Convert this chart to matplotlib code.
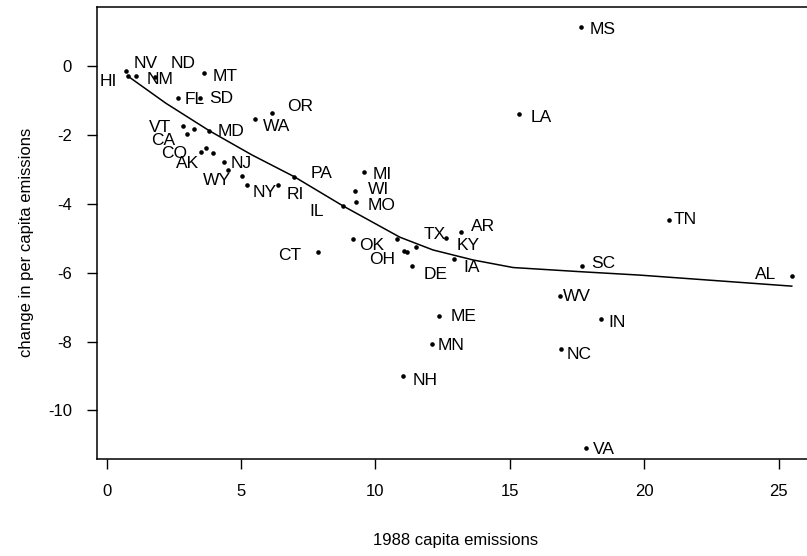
"""Change in per capita emissions vs 1988 level, by state."""

import matplotlib
matplotlib.use("Agg")
import matplotlib.pyplot as plt

# state codes ("" = dot with no visible label)
states = ["HI", "NV", "ND", "NM", "MT", "FL", "SD", "OR", "WA", "VT",
          "", "CA", "MD", "CO", "", "AK", "NJ", "WY", "", "NY",
          "RI", "PA", "IL", "MI", "WI", "MO", "CT", "OK", "", "OH",
          "", "TX", "DE", "KY", "AR", "IA", "ME", "MN", "NH", "LA",
          "MS", "WV", "NC", "SC", "VA", "IN", "TN", "AL"]

emis_1988 = [0.71, 0.80, 1.10, 1.81, 3.63, 2.65, 3.48, 6.16, 5.53, 2.83,
             3.25, 2.98, 3.82, 3.51, 3.71, 3.94, 4.37, 4.50, 5.02, 5.21,
             6.37, 6.98, 8.80, 9.58, 9.25, 9.27, 7.87, 9.15, 10.79, 11.06,
             11.18, 11.51, 11.36, 12.61, 13.18, 12.92, 12.37, 12.09, 11.03, 15.34,
             17.65, 16.85, 16.90, 17.68, 17.83, 18.38, 20.91, 25.51]

change = [-0.15, -0.30, -0.30, -0.31, -0.20, -0.92, -0.92, -1.37, -1.54, -1.73,
          -1.82, -1.98, -1.88, -2.49, -2.39, -2.53, -2.79, -3.03, -3.19, -3.45,
          -3.45, -3.21, -4.06, -3.09, -3.62, -3.96, -5.39, -5.03, -5.03, -5.36,
          -5.41, -5.25, -5.81, -5.00, -4.81, -5.60, -7.27, -8.07, -9.01, -1.40,
          1.14, -6.69, -8.22, -5.81, -11.10, -7.34, -4.46, -6.09]

# smooth (lowess) fit
fit_x = [0.80, 2.2, 3.82, 5.4, 6.97, 8.79, 10.91, 12.14, 13.63, 15.12, 17.61, 19.84, 25.49]
fit_y = [-0.30, -1.08, -1.88, -2.58, -3.21, -4.06, -4.97, -5.34, -5.63, -5.85, -5.97, -6.07, -6.39]

# label offsets from the dot, in pixels (right, up)
label_offset = {
    "HI": (-17, -10), "NV": (17, 13), "ND": (47, 13), "NM": (5, -3),
    "MT": (21, -4), "FL": (17, -2), "SD": (21, -1), "OR": (28, 7),
    "WA": (21, -7), "VT": (-23, -2), "CA": (-24, -6), "MD": (22, -1),
    "CO": (-27, -2), "AK": (-25, -10), "NJ": (17, -1), "WY": (-11, -10),
    "NY": (18, -8), "RI": (17, -10), "PA": (27, 3), "IL": (-27, -6),
    "MI": (18, -2), "WI": (23, 1), "MO": (26, -3), "CT": (-29, -4),
    "OK": (19, -6), "OH": (-22, -9), "TX": (19, 12), "DE": (24, -8),
    "KY": (23, -7), "AR": (22, 5), "IA": (18, -9), "SC": (21, 3),
    "WV": (17, 0), "IN": (16, -4), "NC": (18, -5), "ME": (24, 0),
    "MN": (19, -1), "NH": (22, -4), "MS": (22, -3), "LA": (22, -3),
    "TN": (17, 0), "AL": (-27, 1), "VA": (18, -1),
}

plt.rcParams["font.family"] = ["Liberation Sans", "DejaVu Sans"]
plt.rcParams["axes.unicode_minus"] = False

fig = plt.figure(figsize=(8.07, 5.56), dpi=100)
ax = fig.add_axes([97 / 807, 1 - 459 / 556, (820 - 97) / 807, (459 - 7) / 556])

ax.plot(emis_1988, change, "o", color="black", ms=3.3, mew=0)
ax.plot(fit_x, fit_y, color="black", lw=1.1)

for s, x, y in zip(states, emis_1988, change):
    if not s:
        continue
    ax.annotate(s, (x, y), xytext=label_offset[s], textcoords="offset pixels",
                ha="center", va="center", fontsize=12.5)

ax.set_xlim(-0.361, 26.54)
ax.set_ylim(-11.408, 1.713)
ax.set_xticks([0, 5, 10, 15, 20, 25])
ax.set_yticks([0, -2, -4, -6, -8, -10])
ax.tick_params(direction="out", length=7, width=1, labelsize=12, pad=11)
for sp in ax.spines.values():
    sp.set_linewidth(1.1)

fig.text(456 / 807, 1 - 541 / 556, "1988 capita emissions",
         ha="center", va="center", fontsize=12)
fig.text(27 / 807, 1 - 242 / 556, "change in per capita emissions",
         ha="center", va="center", rotation=90, fontsize=12)

fig.savefig("out.png", dpi=100)
